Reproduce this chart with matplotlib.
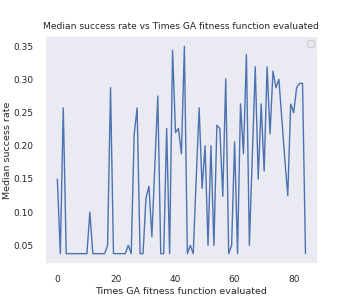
import matplotlib
matplotlib.use("Agg")
import matplotlib.pyplot as plt
import seaborn as sns

# median success rate per evaluation count
times_evaluated = list(range(85))
median_success = [
    0.15, 0.0375, 0.257, 0.0375, 0.0375, 0.0375, 0.0375, 0.0375, 0.0375, 0.0375,
    0.0375, 0.1, 0.0375, 0.0375, 0.0375, 0.0375, 0.0375, 0.05, 0.2875, 0.0375,
    0.0375, 0.0375, 0.0375, 0.0375, 0.05, 0.0375, 0.217, 0.257, 0.0375, 0.0375,
    0.121, 0.139, 0.063, 0.17, 0.275, 0.0375, 0.0375, 0.226, 0.0375, 0.344,
    0.22, 0.226, 0.188, 0.35, 0.0375, 0.05, 0.0375, 0.15, 0.257, 0.136,
    0.2, 0.05, 0.2, 0.05, 0.231, 0.226, 0.124, 0.301, 0.0375, 0.05,
    0.206, 0.0375, 0.263, 0.188, 0.3375, 0.05, 0.185, 0.319, 0.15, 0.263,
    0.162, 0.319, 0.218, 0.3125, 0.2875, 0.3, 0.24, 0.18, 0.125, 0.263,
    0.25, 0.2875, 0.294, 0.294, 0.0375,
]

sns.set_theme(style="dark")
plt.rcParams['font.family'] = ['DejaVu Sans']

fig = plt.figure(figsize=(3.54, 2.99), dpi=100)
ax = fig.add_axes([0.127, 0.117, 0.771, 0.763])

ax.plot(times_evaluated, median_success, color='#4C72B0', linewidth=1.0)

ax.set_title("Median success rate vs Times GA fitness function evaluated", fontsize=6.6, pad=5)
ax.set_xlabel("Times GA fitness function evaluated", fontsize=6.8, labelpad=2)
ax.set_ylabel("Median success rate", fontsize=6.8, labelpad=1)
ax.tick_params(labelsize=6.5, pad=2)
ax.set_xticks([0, 20, 40, 60, 80])
ax.set_yticks([0.05, 0.10, 0.15, 0.20, 0.25, 0.30, 0.35])

ax.legend(fontsize=6)

fig.savefig("out.png", dpi=100)
